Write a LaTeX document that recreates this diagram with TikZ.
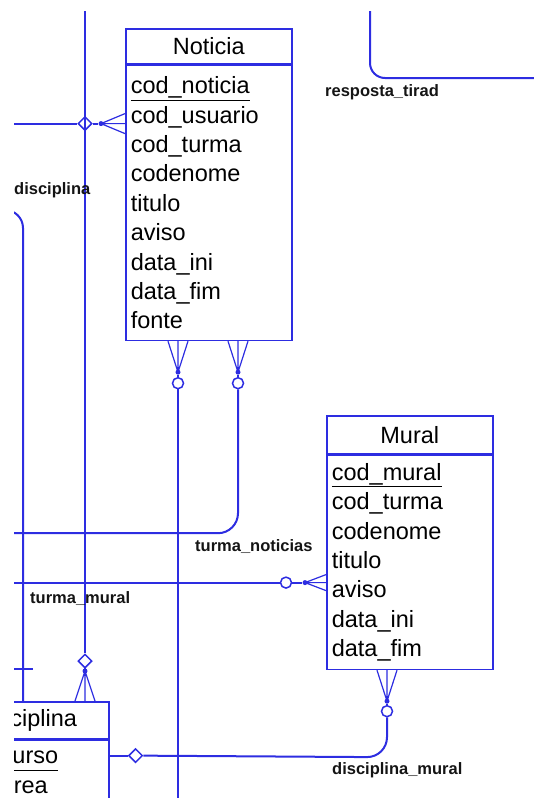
\documentclass[tikz,border=0pt]{standalone}
\usepackage{fontspec}
\setmainfont{Liberation Sans}
\usetikzlibrary{positioning,shapes.geometric}
\definecolor{ErBlue}{RGB}{45,45,225}
\definecolor{LabelGray}{RGB}{20,20,20}

\begin{document}
\begin{tikzpicture}[
    x=1pt, y=-1pt,
    enthead/.style={rectangle, draw=ErBlue, fill=white, line width=1.6pt,
                    inner sep=0pt, anchor=north west,
                    font=\fontsize{23.5}{28}\selectfont},
    entbody/.style={rectangle, draw=ErBlue, fill=white, line width=1.6pt,
                    inner xsep=5pt, inner ysep=0pt, align=left, anchor=north,
                    font=\fontsize{23.5}{29.4}\selectfont},
    rel/.style={draw=ErBlue, line width=2pt},
    crow/.style={draw=ErBlue, line width=1.2pt},
    optcirc/.style={circle, draw=ErBlue, fill=white, line width=1.5pt,
                    minimum size=11pt, inner sep=0pt},
    optdia/.style={diamond, draw=ErBlue, fill=white, line width=1.5pt,
                   minimum size=14pt, inner sep=0pt},
    footdot/.style={circle, fill=ErBlue, minimum size=5pt, inner sep=0pt},
    rellabel/.style={font=\fontsize{16.5}{18}\selectfont\bfseries, text=LabelGray,
                     inner sep=0pt, anchor=west},
]

\useasboundingbox (0,0) rectangle (534,798);
\begin{scope}
\clip (14,11) rectangle (534,798);

% -- frame edges for the cut-off connectors --
\coordinate (topedge) at (0,-20);
\coordinate (bottomedge) at (0,830);
\coordinate (leftedge) at (-20,0);
\coordinate (rightedge) at (560,0);

% -- entities --
\node[enthead, minimum width=166pt, minimum height=35pt] (noticia) at (125,28) {Noticia};
\node[entbody, text width=156pt, minimum height=275pt] (noticiaattr) at (noticia.south)
    {\underline{cod\_noticia}\\cod\_usuario\\cod\_turma\\codenome\\titulo\\aviso\\data\_ini\\data\_fim\\fonte};

\node[enthead, minimum width=166pt, minimum height=38pt] (mural) at (326,415) {Mural};
\node[entbody, text width=156pt, minimum height=214pt] (muralattr) at (mural.south)
    {\underline{cod\_mural}\\cod\_turma\\codenome\\titulo\\aviso\\data\_ini\\data\_fim};

\node[enthead, minimum width=164pt, minimum height=37pt] (disciplina) at (-56,701) {Disciplina};
\node[entbody, text width=154pt, minimum height=64pt] (disciplinaattr) at (disciplina.south)
    {\underline{cod\_curso}\\cod\_area};

% -- turma/usuario into Noticia (left side) --
\coordinate (ntl) at ([yshift=-59pt]noticiaattr.north west);
\node[footdot] (ntldot) at ([xshift=-24pt]ntl) {};
\node[optdia] (ntldia) at ([xshift=-40pt]ntl) {};
\coordinate (ntlfar) at (ntl -| leftedge);
\draw[crow] (ntldot.center) -- ([yshift=10pt]ntl)
            (ntldot.center) -- (ntl)
            (ntldot.center) -- ([yshift=-10pt]ntl);
\draw[rel] (ntlfar) -- (ntldia) (ntldia) -- (ntldot);

% -- vertical link down to Disciplina --
\coordinate (dtop) at ([xshift=141pt]disciplina.north west);
\node[footdot] (dtopdot) at ([yshift=30pt]dtop) {};
\node[optdia] (dtopdia) at ([yshift=40pt]dtop) {};
\coordinate (dtopfar) at (dtop |- topedge);
\draw[rel] (dtopfar) -- (dtopdia) (dtopdia) -- (dtopdot);
\draw[crow] (dtopdot.center) -- ([xshift=-10pt]dtop)
            (dtopdot.center) -- (dtop)
            (dtopdot.center) -- ([xshift=10pt]dtop);

% -- disciplina link on the far left --
\coordinate (dleft) at ([xshift=79pt]disciplina.north west);
\coordinate (dleftbend) at ([yshift=491pt]dleft);
\coordinate (dleftfar) at (dleftbend -| leftedge);
\draw[rel, rounded corners=18pt] (dleftfar) -- (dleftbend) -- (dleft);
\draw[rel] ([xshift=-10pt, yshift=32pt]dleft) -- ([xshift=10pt, yshift=32pt]dleft);
\node[rellabel] (lbldisc) at (14,190) {disciplina};

% -- Noticia bottom, first foot --
\coordinate (nb1) at ([xshift=53pt]noticiaattr.south west);
\node[footdot] (nb1dot) at ([yshift=-31pt]nb1) {};
\node[optcirc] (nb1circ) at ([yshift=-42pt]nb1) {};
\coordinate (nb1far) at (nb1 |- bottomedge);
\draw[crow] (nb1dot.center) -- ([xshift=-10pt]nb1)
            (nb1dot.center) -- (nb1)
            (nb1dot.center) -- ([xshift=10pt]nb1);
\draw[rel] (nb1dot) -- (nb1circ) (nb1circ) -- (nb1far);

% -- Noticia bottom, second foot (turma_noticias) --
\coordinate (nb2) at ([xshift=113pt]noticiaattr.south west);
\node[footdot] (nb2dot) at ([yshift=-31pt]nb2) {};
\node[optcirc] (nb2circ) at ([yshift=-42pt]nb2) {};
\coordinate (nb2bend) at ([yshift=-192pt]nb2);
\coordinate (nb2far) at (nb2bend -| leftedge);
\draw[crow] (nb2dot.center) -- ([xshift=-10pt]nb2)
            (nb2dot.center) -- (nb2)
            (nb2dot.center) -- ([xshift=10pt]nb2);
\draw[rel] (nb2dot) -- (nb2circ);
\draw[rel, rounded corners=20pt] (nb2circ) -- (nb2bend) -- (nb2far);
\node[rellabel] (lblturmanot) at ([xshift=-43pt, yshift=-13pt]nb2bend) {turma\_noticias};

% -- turma_mural into Mural (left side) --
\coordinate (ml) at ([yshift=-128pt]muralattr.north west);
\node[footdot] (mldot) at ([xshift=-21pt]ml) {};
\node[optcirc] (mlcirc) at ([xshift=-40pt]ml) {};
\coordinate (mlfar) at (ml -| leftedge);
\draw[crow] (mldot.center) -- ([yshift=8pt]ml)
            (mldot.center) -- (ml)
            (mldot.center) -- ([yshift=-8pt]ml);
\draw[rel] (mlfar) -- (mlcirc) (mlcirc) -- (mldot);
\node[rellabel] (lblturmamur) at ([xshift=50pt, yshift=-16pt]mlfar) {turma\_mural};

% -- disciplina_mural --
\coordinate (mb) at ([xshift=61pt]muralattr.south west);
\node[footdot] (mbdot) at ([yshift=-31pt]mb) {};
\node[optcirc] (mbcirc) at ([yshift=-41pt]mb) {};
\coordinate (mbbend) at ([yshift=-87pt]mb);
\coordinate (dr) at ([yshift=-16pt]disciplinaattr.north east);
\node[optdia] (drdia) at ([xshift=26pt]dr) {};
\draw[crow] (mbdot.center) -- ([xshift=-10pt]mb)
            (mbdot.center) -- (mb)
            (mbdot.center) -- ([xshift=10pt]mb);
\draw[rel] (mbdot) -- (mbcirc) (dr) -- (drdia);
\draw[rel, rounded corners=20pt] (mbcirc) -- (mbbend) -- (drdia);
\node[rellabel] (lbldiscmur) at ([xshift=-55pt, yshift=-13pt]mbbend) {disciplina\_mural};

% -- resposta_tirad, top right --
\coordinate (rtbend) at (370,78);
\coordinate (rttop) at (rtbend |- topedge);
\coordinate (rtfar) at (rtbend -| rightedge);
\draw[rel, rounded corners=15pt] (rttop) -- (rtbend) -- (rtfar);
\node[rellabel] (lblresp) at ([xshift=-45pt, yshift=-14pt]rtbend) {resposta\_tirad};

\end{scope}
\end{tikzpicture}
\end{document}
